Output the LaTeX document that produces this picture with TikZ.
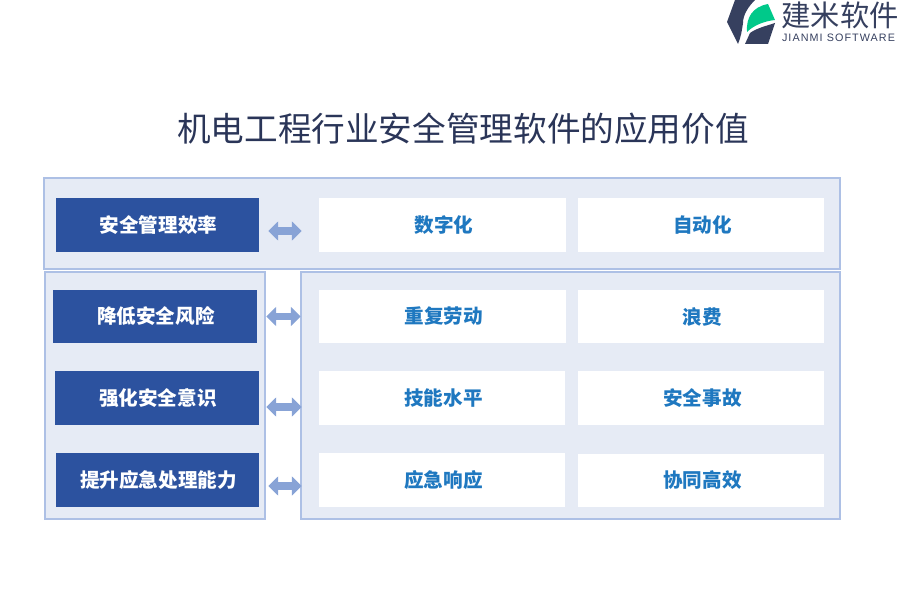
\documentclass[tikz,border=0pt]{standalone}
\usepackage{fontspec}
\newfontfamily\cjk{Noto Sans CJK SC}
\newfontfamily\logolatin[LetterSpace=10]{Liberation Sans}
\usetikzlibrary{arrows.meta}
\definecolor{panelfill}{HTML}{E6EBF5}
\definecolor{panelline}{HTML}{ADC0E5}
\definecolor{boxblue}{HTML}{2C529F}
\definecolor{itemblue}{HTML}{1F78C0}
\definecolor{titlenavy}{HTML}{2A3558}
\definecolor{arrowblue}{HTML}{88A3D6}
\definecolor{logodark}{HTML}{36405F}
\definecolor{logogreen}{HTML}{00C98A}

\begin{document}
\begin{tikzpicture}[x=0.03cm, y=-0.03cm]
\tikzset{panel/.style={draw=panelline, fill=panelfill, line width=1.5pt},
  headbox/.style={fill=boxblue, text=white, inner sep=0pt, font=\cjk\fontsize{16.7}{20}\selectfont\bfseries\kern1.7pt},
  itembox/.style={fill=white, text=itemblue, inner sep=0pt, font=\cjk\fontsize{16.7}{20}\selectfont\bfseries\kern2.5pt},
  twoway/.style={draw=arrowblue, line width=6.8pt, {Triangle[length=8.5pt, width=16pt]}-{Triangle[length=8.5pt, width=16pt]}}}
\useasboundingbox (0, 0) rectangle (900, 600);
% panels
\draw[panel] (44, 178) rectangle (840, 269);
\draw[panel] (45, 272) rectangle (265, 519);
\draw[panel] (301, 272) rectangle (840, 519);
% title
\node[text=titlenavy, inner sep=0pt, font=\cjk\fontsize{28.7}{32}\selectfont] (Title) at (463, 129) {机电工程行业安全管理软件的应用价值};
% left column
\node[headbox, minimum width=6.09cm, minimum height=1.62cm] (H1) at (157.5, 225) {安全管理效率};
\node[headbox, minimum width=6.12cm, minimum height=1.59cm] (H2) at (155, 316.5) {降低安全风险};
\node[headbox, minimum width=6.12cm, minimum height=1.62cm] (H3) at (157, 398) {强化安全意识};
\node[headbox, minimum width=6.09cm, minimum height=1.62cm] (H4) at (157.5, 480) {提升应急处理能力};
% right columns
\node[itembox, minimum width=7.41cm, minimum height=1.62cm] (A1) at (442.5, 225) {数字化};
\node[itembox, minimum width=7.38cm, minimum height=1.62cm] (B1) at (701, 225) {自动化};
\node[itembox, minimum width=7.41cm, minimum height=1.59cm] (A2) at (442.5, 316.5) {重复劳动};
\node[itembox, minimum width=7.38cm, minimum height=1.59cm] (B2) at (701, 316.5) {浪费};
\node[itembox, minimum width=7.38cm, minimum height=1.62cm] (A3) at (442, 398) {技能水平};
\node[itembox, minimum width=7.38cm, minimum height=1.62cm] (B3) at (701, 398) {安全事故};
\node[itembox, minimum width=7.38cm, minimum height=1.62cm] (A4) at (442, 480) {应急响应};
\node[itembox, minimum width=7.38cm, minimum height=1.59cm] (B4) at (701, 480.5) {协同高效};
% arrows
\draw[twoway] ([shift={(9, 6)}]H1.east) -- ([shift={(-17, 6)}]A1.west);
\draw[twoway] ([shift={(9, 0)}]H2.east) -- ([shift={(-18, 0)}]A2.west);
\draw[twoway] ([shift={(7, 9)}]H3.east) -- ([shift={(-17, 9)}]A3.west);
\draw[twoway] ([shift={(9, 6)}]H4.east) -- ([shift={(-17, 6)}]A4.west);
% logo
\fill[logodark] (735, 0) -- (755, 0) .. controls (748, 7) and (743, 15) .. (743, 23) .. controls (742, 30) and (741, 37) .. (738, 44) -- (727, 22) -- cycle;
\fill[logodark] (745, 44) -- (750, 33) .. controls (757, 28) and (766, 26) .. (775, 23) -- (768, 44) -- cycle;
\fill[logogreen] (747, 32) .. controls (746, 18) and (752, 7) .. (768, 4) -- (775, 20) .. controls (765, 21) and (754, 25) .. (747, 32) -- cycle;
\node[text=logodark, inner sep=0pt, font=\cjk\fontsize{25}{28}\selectfont] (LogoCn) at (840, 15.5) {建米软件};
\node[text=logodark, inner sep=0pt, font=\logolatin\fontsize{9.2}{11}\selectfont] (LogoEn) at (838.5, 38) {JIANMI SOFTWARE};
\end{tikzpicture}
\end{document}
